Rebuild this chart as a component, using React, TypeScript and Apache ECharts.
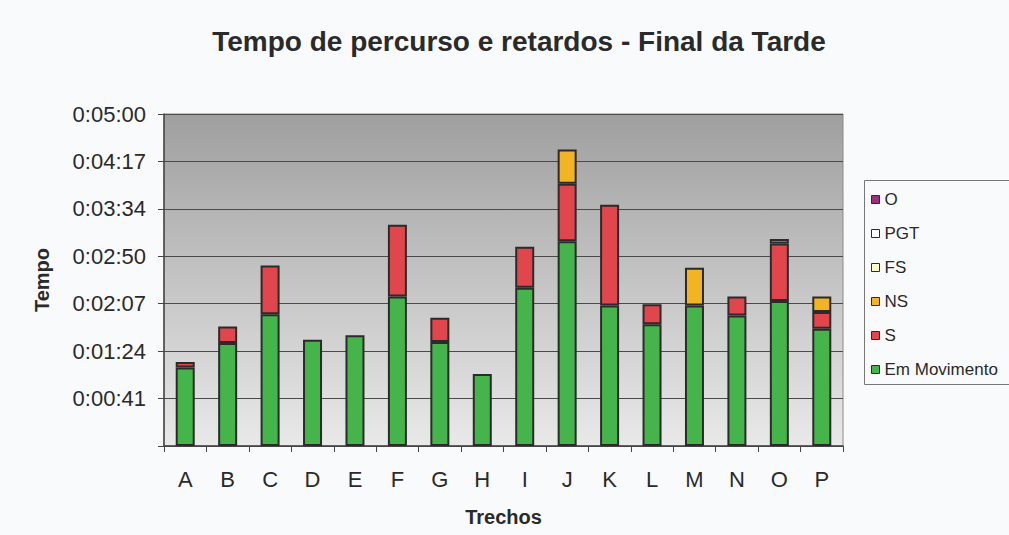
import React, { useEffect, useRef } from "react";
import * as echarts from "echarts";

const categories = ["A", "B", "C", "D", "E", "F", "G", "H", "I", "J", "K", "L", "M", "N", "O", "P"];
// values in seconds
const emMovimento = [71, 93, 119, 96, 100, 135, 94, 65, 143, 185, 127, 110, 127, 118, 131, 106];
const sValues = [5, 15, 44, 0, 0, 65, 22, 0, 37, 52, 91, 18, 0, 17, 52, 15];
const nsValues = [0, 0, 0, 0, 0, 0, 0, 0, 0, 31, 0, 0, 34, 0, 4, 14];
const fsValues = [0, 0, 0, 0, 0, 0, 0, 0, 0, 0, 0, 0, 0, 0, 0, 0];
const pgtValues = [0, 0, 0, 0, 0, 0, 0, 0, 0, 0, 0, 0, 0, 0, 0, 0];
const oValues = [0, 0, 0, 0, 0, 0, 0, 0, 0, 0, 0, 0, 0, 0, 0, 0];
const yTickLabels = ["", "0:00:41", "0:01:24", "0:02:07", "0:02:50", "0:03:34", "0:04:17", "0:05:00"];
const legendOrder = ["O", "PGT", "FS", "NS", "S", "Em Movimento"];

const Y_MAX = 300;
const Y_INTERVAL = Y_MAX / 7;

export default function App() {
  const ref = useRef<HTMLDivElement>(null);
  useEffect(() => {
    if (!ref.current) return;
    const chart = echarts.init(ref.current, undefined, { renderer: "svg" });
    const font = "Arial, 'Liberation Sans', sans-serif";
    const border = { borderColor: "#2b2b2b", borderWidth: 2 };
    const mk = (name: string, vals: number[], color: string) => ({
      name,
      type: "bar",
      stack: "total",
      barWidth: 19,
      data: vals.map((v) => (v ? v : null)),
      itemStyle: { color, ...border },
    });
    chart.setOption({
      animation: false,
      backgroundColor: "#f9fafc",
      textStyle: { fontFamily: font },
      title: {
        text: "Tempo de percurso e retardos - Final da Tarde",
        left: 514,
        textAlign: "center",
        top: 22,
        textStyle: { fontSize: 28, fontWeight: "bold", color: "#2a2a2a", fontFamily: font },
      },
      legend: {
        orient: "vertical",
        left: 866,
        top: 186,
        data: legendOrder,
        icon: "rect",
        itemWidth: 8,
        itemHeight: 8,
        itemGap: 17,
        textStyle: { fontSize: 17, color: "#2a2a2a", fontFamily: font },
        itemStyle: { borderColor: "#2b2b2b", borderWidth: 1 },
      },
      graphic: [
        {
          type: "rect",
          left: 862,
          top: 178,
          shape: { width: 200, height: 204 },
          style: { fill: "none", stroke: "#777", lineWidth: 1 },
          silent: true,
        },
      ],
      grid: {
        left: 164,
        right: 166,
        top: 114,
        bottom: 89,
        show: true,
        borderColor: "#8a8a8a",
        borderWidth: 1,
        backgroundColor: new echarts.graphic.LinearGradient(0, 0, 0, 1, [
          { offset: 0, color: "#9f9f9f" },
          { offset: 1, color: "#e9e9e9" },
        ]),
      },
      xAxis: {
        type: "category",
        data: categories,
        name: "Trechos",
        nameLocation: "middle",
        nameGap: 61,
        nameTextStyle: { fontSize: 20, fontWeight: "bold", color: "#2a2a2a", fontFamily: font },
        axisLine: { lineStyle: { color: "#444", width: 1.5 } },
        axisTick: { show: true, length: 6, lineStyle: { color: "#444" } },
        axisLabel: { fontSize: 22, color: "#2a2a2a", margin: 22, fontFamily: font },
      },
      yAxis: {
        type: "value",
        min: 0,
        max: Y_MAX,
        interval: Y_INTERVAL,
        name: "Tempo",
        nameLocation: "middle",
        nameGap: 112,
        nameTextStyle: { fontSize: 20, fontWeight: "bold", color: "#2a2a2a", fontFamily: font },
        axisLine: { show: true, lineStyle: { color: "#444", width: 1.5 } },
        axisTick: { show: true, length: 6, lineStyle: { color: "#444" } },
        axisLabel: {
          fontSize: 22,
          color: "#2a2a2a",
          margin: 18,
          fontFamily: font,
          formatter: (v: number) => yTickLabels[Math.round(v / Y_INTERVAL)] ?? "",
        },
        splitLine: { show: true, lineStyle: { color: "#4a4a4a", width: 1 } },
      },
      series: [
        mk("Em Movimento", emMovimento, "#45b44b"),
        mk("S", sValues, "#e0464b"),
        mk("NS", nsValues, "#f2b423"),
        mk("FS", fsValues, "#ffffcc"),
        mk("PGT", pgtValues, "#ffffff"),
        mk("O", oValues, "#993377"),
      ],
    });
    return () => chart.dispose();
  }, []);
  return (
    <div
      ref={ref}
      style={{ position: "fixed", left: 0, top: 0, width: 1009, height: 535 }}
    />
  );
}
